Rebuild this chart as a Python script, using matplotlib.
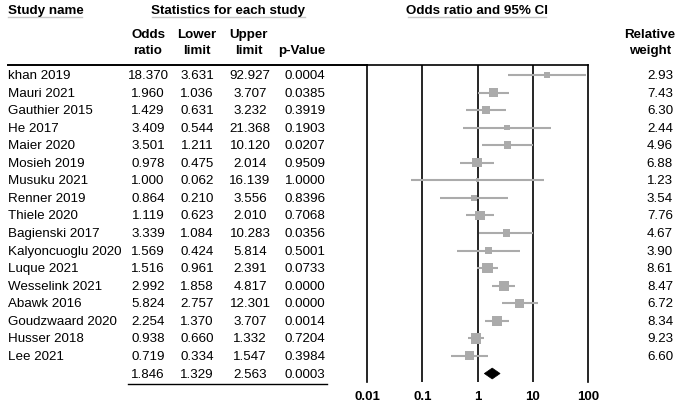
import matplotlib
matplotlib.use("Agg")
import matplotlib.pyplot as plt
from matplotlib.transforms import blended_transform_factory
from matplotlib.lines import Line2D
from matplotlib.patches import Polygon
import numpy as np

plt.rcParams['font.family'] = ['Liberation Sans', 'DejaVu Sans']

studies = ["khan 2019", "Mauri 2021", "Gauthier 2015", "He 2017", "Maier 2020",
           "Mosieh 2019", "Musuku 2021", "Renner 2019", "Thiele 2020", "Bagienski 2017",
           "Kalyoncuoglu 2020", "Luque 2021", "Wesselink 2021", "Abawk 2016",
           "Goudzwaard 2020", "Husser 2018", "Lee 2021"]
odds = [18.370, 1.960, 1.429, 3.409, 3.501, 0.978, 1.000, 0.864, 1.119, 3.339,
        1.569, 1.516, 2.992, 5.824, 2.254, 0.938, 0.719]
lower = [3.631, 1.036, 0.631, 0.544, 1.211, 0.475, 0.062, 0.210, 0.623, 1.084,
         0.424, 0.961, 1.858, 2.757, 1.370, 0.660, 0.334]
upper = [92.927, 3.707, 3.232, 21.368, 10.120, 2.014, 16.139, 3.556, 2.010, 10.283,
         5.814, 2.391, 4.817, 12.301, 3.707, 1.332, 1.547]
pvals = ["0.0004", "0.0385", "0.3919", "0.1903", "0.0207", "0.9509", "1.0000", "0.8396",
         "0.7068", "0.0356", "0.5001", "0.0733", "0.0000", "0.0000", "0.0014", "0.7204", "0.3984"]
weights = [2.93, 7.43, 6.30, 2.44, 4.96, 6.88, 1.23, 3.54, 7.76, 4.67, 3.90, 8.61,
           8.47, 6.72, 8.34, 9.23, 6.60]
summary = {"odds": 1.846, "lower": 1.329, "upper": 2.563, "p": "0.0003"}
xticks = [0.01, 0.1, 1, 10, 100]
xticklabels = ["0.01", "0.1", "1", "10", "100"]

W, H = 685, 406
fig = plt.figure(figsize=(W / 100, H / 100), dpi=100)

def fx(px):
    return px / W

def fy(py):
    return 1 - py / H

ax_top, ax_bot = 66, 383
ax = fig.add_axes([fx(367), fy(ax_bot), fx(588) - fx(367), (ax_bot - ax_top) / H])
n = len(studies)
row_h = 17.56
y_top = -(76 - ax_top) / row_h
y_bot = y_top + (ax_bot - ax_top) / row_h
ax.set_xscale('log')
ax.set_xlim(0.01, 100)
ax.set_ylim(y_bot, y_top)

gray = '#ababab'
ys = np.arange(n)
for i in range(n):
    ax.plot([lower[i], upper[i]], [ys[i], ys[i]], color=gray, lw=1.5, solid_capstyle='butt', zorder=2)
sides = 2.5 * np.sqrt(np.array(weights))
ax.scatter(odds, ys, s=sides ** 2, marker='s', color=gray, linewidths=0, zorder=3)

# summary diamond
sy = n
dh = 0.31
diamond = Polygon([[summary["lower"], sy], [summary["odds"], sy - dh],
                   [summary["upper"], sy], [summary["odds"], sy + dh]],
                  closed=True, facecolor='black', edgecolor='black', lw=0.5, zorder=4)
ax.add_patch(diamond)

for xv in xticks[1:-1]:
    ax.axvline(xv, color='black', lw=1.2, zorder=1)
for side in ['left', 'right', 'top']:
    ax.spines[side].set_linewidth(1.2)
ax.spines['bottom'].set_visible(False)
ax.set_xticks(xticks)
ax.set_xticklabels(xticklabels, fontweight='bold', fontsize=9.5)
ax.minorticks_off()
ax.tick_params(axis='x', length=0, pad=6)
ax.set_yticks([])

# table text
tr = blended_transform_factory(fig.transFigure, ax.transData)
fs = 9.6
col_name_x = fx(8)
col_or = fx(148)
col_lo = fx(197)
col_up = fx(250)
col_p = fx(305)
col_w = fx(673)
for i in range(n):
    fig.text(col_name_x, ys[i], studies[i], transform=tr, ha='left', va='center', fontsize=fs)
    fig.text(col_or, ys[i], f"{odds[i]:.3f}", transform=tr, ha='center', va='center', fontsize=fs)
    fig.text(col_lo, ys[i], f"{lower[i]:.3f}", transform=tr, ha='center', va='center', fontsize=fs)
    fig.text(col_up, ys[i], f"{upper[i]:.3f}", transform=tr, ha='center', va='center', fontsize=fs)
    fig.text(col_p, ys[i], pvals[i], transform=tr, ha='center', va='center', fontsize=fs)
    fig.text(col_w, ys[i], f"{weights[i]:.2f}", transform=tr, ha='right', va='center', fontsize=fs)

fig.text(col_or, sy, f"{summary['odds']:.3f}", transform=tr, ha='center', va='center', fontsize=fs)
fig.text(col_lo, sy, f"{summary['lower']:.3f}", transform=tr, ha='center', va='center', fontsize=fs)
fig.text(col_up, sy, f"{summary['upper']:.3f}", transform=tr, ha='center', va='center', fontsize=fs)
fig.text(col_p, sy, summary['p'], transform=tr, ha='center', va='center', fontsize=fs)
fig.add_artist(Line2D([fx(128), fx(327)], [fy(384.5), fy(384.5)], color='black', lw=1.0))

# headers
hfs = 9.6
fig.text(fx(8), fy(11), "Study name", ha='left', va='center', fontsize=hfs, fontweight='bold')
fig.text(fx(228), fy(11), "Statistics for each study", ha='center', va='center', fontsize=hfs, fontweight='bold')
fig.text(fx(477), fy(11), "Odds ratio and 95% CI", ha='center', va='center', fontsize=hfs, fontweight='bold')
ul = '#c8c8c8'
fig.add_artist(Line2D([fx(8), fx(82)], [fy(17.5), fy(17.5)], color=ul, lw=1.0))
fig.add_artist(Line2D([fx(152), fx(305)], [fy(17.5), fy(17.5)], color=ul, lw=1.0))
fig.add_artist(Line2D([fx(408), fx(546)], [fy(17.5), fy(17.5)], color=ul, lw=1.0))

for cx, l1, l2 in [(148, "Odds", "ratio"), (197, "Lower", "limit"), (249, "Upper", "limit"),
                   (650, "Relative", "weight")]:
    fig.text(fx(cx), fy(35), l1, ha='center', va='center', fontsize=hfs, fontweight='bold')
    fig.text(fx(cx), fy(51), l2, ha='center', va='center', fontsize=hfs, fontweight='bold')
fig.text(fx(302), fy(51), "p-Value", ha='center', va='center', fontsize=hfs, fontweight='bold')

fig.add_artist(Line2D([fx(8), fx(367)], [fy(66), fy(66)], color='black', lw=1.4))

fig.savefig("out.png", dpi=100)
